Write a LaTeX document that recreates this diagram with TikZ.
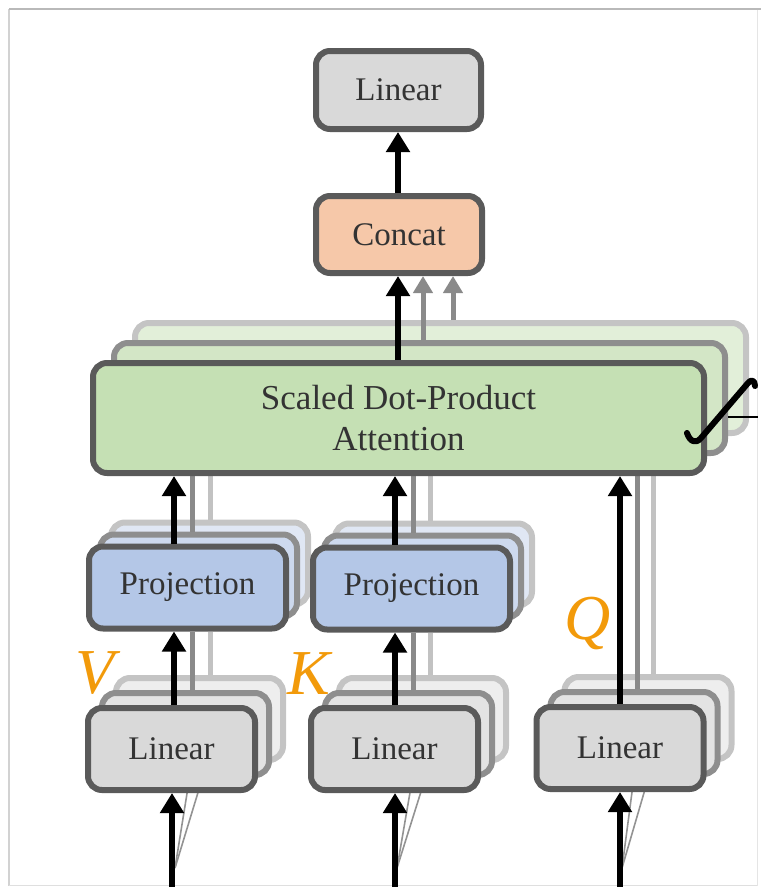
\documentclass[tikz,border=0pt]{standalone}
\usepackage{fontspec}
\setmainfont{Liberation Serif}
\usetikzlibrary{arrows.meta,calc}

\definecolor{edgemain}{HTML}{5A5A5A}
\definecolor{edgemid}{HTML}{8E8E8E}
\definecolor{edgefar}{HTML}{C4C4C4}
\definecolor{linfill}{HTML}{D9D9D9}
\definecolor{linfillmid}{HTML}{E3E3E3}
\definecolor{linfillfar}{HTML}{EEEEEE}
\definecolor{projfill}{HTML}{B4C7E7}
\definecolor{projfillmid}{HTML}{CDD9EE}
\definecolor{projfillfar}{HTML}{E0E7F4}
\definecolor{attfill}{HTML}{C5E0B4}
\definecolor{attfillmid}{HTML}{D3E6C6}
\definecolor{attfillfar}{HTML}{E2EFD9}
\definecolor{catfill}{HTML}{F6C8A9}
\definecolor{qkvorange}{HTML}{F29A0A}
\definecolor{txtgray}{HTML}{333333}
\definecolor{lanedark}{HTML}{8A8A8A}
\definecolor{lanelight}{HTML}{C2C2C2}

\tikzset{
  blk/.style={rounded corners=14pt, line width=6pt, draw=edgemain, inner sep=0pt,
    font=\fontsize{33}{41}\selectfont, text=txtgray, align=center},
  blkmid/.style={blk, draw=edgemid},
  blkfar/.style={blk, draw=edgefar},
  lin/.style={minimum width=167pt, minimum height=82pt},
  proj/.style={minimum width=197pt, minimum height=82pt},
  conn/.style={line width=6pt, draw=black, -{Triangle[width=23pt,length=20pt]}},
  greyconn/.style={line width=5pt, draw=lanedark, -{Triangle[width=19pt,length=17pt]}},
  lanemid/.style={line width=5pt, draw=lanedark},
  lanefar/.style={line width=5pt, draw=lanelight},
  fanline/.style={line width=1.6pt, draw=gray!85},
  qkv/.style={font=\fontsize{64}{64}\itshape, text=qkvorange, inner sep=0pt},
}

\begin{document}
\begin{tikzpicture}[x=1pt, y=-1pt]
\useasboundingbox (0,0) rectangle (761,887);

% thin frame
\draw[line width=1.2pt, draw=gray!35] (9,9) -- (9,886);
\draw[line width=1pt, draw=gray!20] (757,9) -- (757,886);
\draw[line width=1pt, draw=gray!25] (9,885.5) -- (757,885.5);
\draw[line width=2.6pt, draw=gray!55] (9,9) -- (761,9);

% column positions
\coordinate (cV) at (174,0);
\coordinate (cK) at (395,0);
\coordinate (cQ) at (620,0);
\coordinate (cVa) at (192,0);
\coordinate (cVb) at (210,0);
\coordinate (cKa) at (413,0);
\coordinate (cKb) at (430,0);
\coordinate (cQa) at (637,0);
\coordinate (cQb) at (653,0);
\coordinate (cCa) at (423,0);
\coordinate (cCb) at (453,0);

% inputs at the bottom edge
\coordinate (inV) at (172,887);
\coordinate (inK) at (395,887);
\coordinate (inQ) at (620,887);
\coordinate (fV) at (175,868);
\coordinate (fK) at (397,868);
\coordinate (fQ) at (622,868);

% stacked copies behind the boxes (far, then middle)
\node[blkfar, fill=attfillfar, minimum width=611pt, minimum height=110pt] (sdpa3) at (440.5,378) {};
\node[blkmid, fill=attfillmid, minimum width=611pt, minimum height=110pt] (sdpa2) at (419.5,398) {};

\node[blkfar, fill=projfillfar, proj] (projV3) at (209.5,563.5) {};
\node[blkmid, fill=projfillmid, proj] (projV2) at (198.5,575.5) {};
\node[blkfar, fill=projfillfar, proj] (projK3) at (433.5,564.5) {};
\node[blkmid, fill=projfillmid, proj] (projK2) at (422.5,576.5) {};

\node[blkfar, fill=linfillfar, lin] (linV3) at (199.5,719) {};
\node[blkmid, fill=linfillmid, lin] (linV2) at (185.5,734) {};
\node[blkfar, fill=linfillfar, lin] (linK3) at (422.5,719) {};
\node[blkmid, fill=linfillmid, lin] (linK2) at (408.5,734) {};
\node[blkfar, fill=linfillfar, lin] (linQ3) at (648,718) {};
\node[blkmid, fill=linfillmid, lin] (linQ2) at (634,733) {};

% main boxes (placed now so the lanes can refer to them, drawn again on top)
\path (398.5,418) node[minimum width=611pt, minimum height=110pt, inner sep=0pt, outer sep=3pt] (sdpa) {};
\path (187.5,587.5) node[proj, inner sep=0pt, outer sep=3pt] (projV) {};
\path (411.5,588.5) node[proj, inner sep=0pt, outer sep=3pt] (projK) {};
\path (171.5,749) node[lin, inner sep=0pt, outer sep=3pt] (linV) {};
\path (394.5,749) node[lin, inner sep=0pt, outer sep=3pt] (linK) {};
\path (620,748) node[lin, inner sep=0pt, outer sep=3pt] (linQ) {};
\path (399,234.5) node[minimum width=166pt, minimum height=77pt, inner sep=0pt, outer sep=3pt] (concat) {};

% lanes of the other heads
\draw[lanemid] (projV2.north -| cVa) -- (sdpa.south -| cVa);
\draw[lanefar] (projV3.north -| cVb) -- (sdpa.south -| cVb);
\draw[lanemid] (linV2.north -| cVa) -- (projV.south -| cVa);
\draw[lanefar] (linV3.north -| cVb) -- (projV.south -| cVb);
\draw[lanemid] (projK2.north -| cKa) -- (sdpa.south -| cKa);
\draw[lanefar] (projK3.north -| cKb) -- (sdpa.south -| cKb);
\draw[lanemid] (linK2.north -| cKa) -- (projK.south -| cKa);
\draw[lanefar] (linK3.north -| cKb) -- (projK.south -| cKb);
\draw[lanemid] (linQ2.north -| cQa) -- (sdpa.south -| cQa);
\draw[lanefar] (linQ3.north -| cQb) -- (sdpa.south -| cQb);

% fan of thin lines into the stacked linear layers
\draw[fanline] (fV) -- ([xshift=4pt]linV2.south);
\draw[fanline] (fV) -- ([xshift=7.5pt]linV3.south);
\draw[fanline] (fK) -- ([xshift=4pt]linK2.south);
\draw[fanline] (fK) -- ([xshift=7.5pt]linK3.south);
\draw[fanline] (fQ) -- ([xshift=0pt]linQ2.south);
\draw[fanline] (fQ) -- ([xshift=5pt]linQ3.south);

% main boxes
\node[blk, fill=attfill, minimum width=611pt, minimum height=110pt,
  font=\fontsize{35}{41}\selectfont] (sdpaF) at (sdpa) {Scaled Dot-Product\\Attention};
\node[blk, fill=projfill, proj] (projVF) at (projV) {Projection};
\node[blk, fill=projfill, proj] (projKF) at (projK) {Projection};
\node[blk, fill=linfill, lin] (linVF) at (linV) {Linear};
\node[blk, fill=linfill, lin] (linKF) at (linK) {Linear};
\node[blk, fill=linfill, lin] (linQF) at (linQ) {Linear};
\node[blk, fill=catfill, minimum width=166pt, minimum height=77pt] (concatF) at (concat) {Concat};
\node[blk, fill=linfill, minimum width=165pt, minimum height=78pt] (out) at (398.5,90) {Linear};

% outputs of the other heads into Concat
\draw[greyconn] (sdpa2.north -| cCa) -- (concat.south -| cCa);
\draw[greyconn] (sdpa3.north -| cCb) -- (concat.south -| cCb);

% main data flow
\draw[conn] (inV) -- (inV |- linV.south);
\draw[conn] (inK) -- (inK |- linK.south);
\draw[conn] (inQ) -- (inQ |- linQ.south);
\draw[conn] (linV.north -| cV) -- (projV.south -| cV);
\draw[conn] (linK.north -| cK) -- (projK.south -| cK);
\draw[conn] (projV.north -| cV) -- (sdpa.south -| cV);
\draw[conn] (projK.north -| cK) -- (sdpa.south -| cK);
\draw[conn] (linQ.north -| cQ) -- (sdpa.south -| cQ);
\draw[conn] ([xshift=-0.5pt]sdpa.north) -- ([xshift=-0.5pt]sdpa.north |- concat.south);
\draw[conn] ([xshift=-1pt]concat.north) -- ([xshift=-1pt]concat.north |- out.south);

% head-count mark on the attention stack
\draw[line width=6pt, line cap=round, line join=round]
  (687,433) .. controls (690,442) and (696,444) .. (701,438)
  -- (748,383) .. controls (751,379) and (755,380) .. (755,386);
\draw[line width=2pt] (728,417) -- (758,417);

% input labels
\node[qkv] (lblV) at (95,673) {V};
\node[qkv] (lblK) at (309,674) {K};
\node[qkv] (lblQ) at (588,623) {Q};
\end{tikzpicture}
\end{document}
